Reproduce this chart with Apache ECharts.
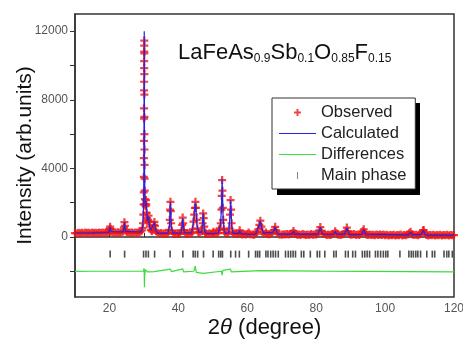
<!DOCTYPE html>
<html>
<head>
<meta charset="utf-8">
<script src="https://cdn.jsdelivr.net/npm/echarts@6/dist/echarts.min.js"></script>
<style>
  html, body { margin: 0; padding: 0; background: #fff; }
  #chart { width: 463px; height: 343px; }
</style>
</head>
<body>
<div id="chart"></div>
<script>
// observed points [2theta, intensity]
const observed = [
  [10,230],[10.5,205],[11,250],[11.5,220],[12,240],[12.5,210],[13,255],[13.5,225],[14,245],[14.5,215],
  [15,260],[15.5,230],[16,250],[16.5,225],[17,265],[17.5,235],[18,255],[18.5,230],[19,270],[19.5,250],
  [20,330],[20.1,480],[20.2,600],[20.3,470],[20.5,300],[21,255],[21.5,275],[22,245],[22.5,270],[23,250],
  [23.5,280],[24,320],[24.2,560],[24.35,860],[24.5,650],[24.7,380],[25,290],[25.5,260],[26,240],[26.5,265],
  [27,235],[27.5,260],[28,240],[28.5,260],[29,300],[29.4,380],[29.6,520],[29.75,800],[29.85,1300],[29.92,1900],
  [29.96,2600],[29.98,3500],[30,4600],[30.02,5600],[30.03,6900],[30.04,7500],[30.05,8550],[30.06,9050],
  [30.07,9850],[30.08,10250],[30.09,10800],[30.1,11150],[30.11,11450],[30.12,10700],[30.13,9500],[30.14,8300],
  [30.15,7000],[30.16,6000],[30.17,5100],[30.19,4200],[30.21,3400],[30.24,2700],
  [30.3,2200],[30.4,1900],[30.5,1800],[30.6,2150],[30.7,1900],[30.8,1400],[30.9,1100],[31,900],[31.2,1000],
  [31.35,1250],[31.5,900],[31.7,600],[32,420],[32.3,330],[32.6,420],[32.9,700],[33.05,880],[33.2,650],[33.5,330],
  [34,240],[34.5,200],[35,225],[35.5,190],[36,215],[36.5,180],[37,230],[37.3,420],[37.5,1000],[37.6,1600],
  [37.7,2050],[37.8,1500],[37.9,800],[38.1,350],[38.5,220],[39,185],[39.5,210],[40,180],[40.5,215],[40.9,380],
  [41.1,700],[41.25,1130],[41.4,800],[41.6,400],[42,210],[42.5,180],[43,210],[43.5,190],[44,260],[44.2,450],
  [44.4,900],[44.6,1300],[44.8,1700],[44.95,2050],[45.1,1700],[45.3,1000],[45.5,500],[45.8,280],[46.2,230],
  [46.8,330],[47.05,800],[47.2,1370],[47.35,1100],[47.5,600],[47.8,260],[48,200],[48.5,180],[49,210],[49.5,175],
  [50,230],[50.2,310],[50.5,210],[51,190],[51.5,230],[51.8,420],[52,500],[52.3,800],[52.5,1600],[52.6,2400],
  [52.7,3320],[52.8,2700],[52.9,1700],[53,1000],[53.2,450],[53.5,240],[54,200],[54.5,210],[54.8,500],[55,1300],
  [55.15,2150],[55.3,1600],[55.45,800],[55.7,300],[56,190],[56.5,220],[57,170],[57.5,200],[57.8,390],[58.1,200],
  [58.5,150],[59,180],[59.5,140],[60,170],[60.4,260],[60.8,160],[61.5,150],[62,130],[62.5,190],[62.8,300],
  [63.2,450],[63.5,700],[63.8,950],[64.1,600],[64.4,300],[64.8,180],[65.4,260],[65.8,170],[66.3,160],[66.8,200],
  [67.3,260],[67.8,400],[68.1,590],[68.4,380],[68.8,200],[69.3,150],[70,130],[70.5,160],[71,140],[71.5,180],
  [72,150],[72.5,170],[73,200],[73.4,350],[73.7,220],[74,170],[74.5,130],[75,150],[75.5,120],[76,170],
  [76.5,140],[77,110],[77.5,140],[78,120],[78.5,170],[79,130],[79.5,150],[80,140],[80.5,190],[80.9,380],
  [81.2,580],[81.5,330],[81.9,170],[82.5,190],[83,120],[83.5,140],[84,110],[84.5,150],[85,190],[85.5,340],
  [85.9,220],[86.3,130],[87,110],[87.5,140],[88,170],[88.5,300],[88.9,550],[89.2,320],[89.6,170],[90,130],
  [90.5,150],[91,170],[91.5,120],[92,140],[92.5,110],[93,170],[93.5,330],[93.8,450],[94.1,260],[94.5,140],
  [95,120],[95.5,150],[96,110],[96.5,130],[97,100],[97.5,140],[98,110],[98.5,150],[99,120],[99.5,140],
  [100,100],[100.5,130],[101,90],[101.5,120],[102,100],[102.5,130],[103,90],[103.5,120],[104,100],[104.5,140],
  [105,90],[105.5,120],[106,100],[106.5,150],[107,210],[107.4,300],[107.8,160],[108.3,110],[109,130],[109.5,100],
  [110,150],[110.5,220],[111,380],[111.2,400],[111.5,250],[112,120],[112.5,90],[113,120],[113.5,100],[114,130],
  [114.5,90],[115,120],[115.5,100],[116,130],[116.5,90],[117,120],[117.5,100],[118,130],[118.5,90],[119,120],
  [119.5,100],[120,110]
];

// calculated profile
const calculated = [
  [10,230],[15,240],[19.8,260],[20,330],[20.2,590],[20.4,320],[20.6,260],[24,290],[24.2,550],[24.35,850],
  [24.5,600],[24.7,330],[25,270],[29,290],[29.6,500],[29.85,1300],[29.98,3500],[30.04,7800],[30.08,10500],
  [30.1,12000],[30.12,10600],[30.15,7200],[30.2,3800],[30.3,2200],[30.45,1800],[30.6,2100],[30.75,1700],
  [31,950],[31.35,1200],[31.6,650],[32,400],[32.5,350],[33.05,850],[33.4,380],[34,220],[37,220],[37.4,600],
  [37.6,1600],[37.7,2050],[37.8,1500],[38,500],[38.4,220],[40.8,230],[41.1,700],[41.25,1100],[41.4,750],
  [41.7,250],[43.8,230],[44.4,900],[44.8,1700],[44.95,2000],[45.1,1700],[45.4,700],[45.9,260],[46.8,300],
  [47.05,850],[47.2,1400],[47.35,1000],[47.6,350],[48,200],[50,200],[50.2,300],[50.4,200],[51.6,230],
  [51.8,420],[52.2,650],[52.5,1600],[52.7,3400],[52.85,2300],[53,1100],[53.3,350],[53.7,210],[54.6,230],
  [55,1300],[55.15,2150],[55.3,1600],[55.5,600],[55.8,220],[57.5,200],[57.8,380],[58.1,190],[60,160],
  [60.4,250],[60.8,160],[62.3,160],[62.8,310],[63.4,650],[63.8,950],[64.2,520],[64.7,200],[65.4,250],
  [65.9,170],[67.3,250],[67.8,400],[68.1,590],[68.4,360],[68.9,170],[73,170],[73.4,340],[73.8,170],
  [80.5,170],[80.9,370],[81.2,570],[81.5,320],[82,160],[85.1,170],[85.5,330],[85.9,170],[88.3,170],
  [88.9,540],[89.3,280],[89.8,140],[93.2,150],[93.8,440],[94.3,170],[94.8,120],[106.8,120],[107.4,290],
  [107.9,120],[110.5,150],[111.1,390],[111.6,160],[112.2,110],[120,110]
];

// observed - calculated, shifted down
const difference = [
  [10,-2010],[15,-2000],[20,-2000],[20.2,-1960],[20.4,-2010],[24.35,-2000],[29.9,-2000],[30.0,-1830],
  [30.1,-2200],[30.15,-2930],[30.2,-2300],[30.4,-1900],[30.6,-1960],[31,-2040],[33,-2020],[37.7,-1880],
  [38,-2020],[41.3,-1860],[41.5,-2030],[44.5,-2000],[44.9,-1700],[45.2,-2060],[47.2,-2120],[47.4,-2020],
  [52.5,-2000],[52.7,-2230],[52.9,-1950],[55.1,-1870],[55.4,-2040],[63.8,-1960],[64.1,-2040],[81.2,-1990],
  [120,-2040]
];

// reflection positions of the main phase
const braggPos = [
  20.2, 24.4, 29.9, 30.6, 31.3, 33.1, 37.6, 41.3, 44.3, 44.9, 45.6, 47.3, 50.1, 51.7, 52.3, 52.8, 55.2,
  56.6, 57.7, 60.4, 62.4, 63.0, 63.6, 65.4, 66.0, 66.8, 67.5, 68.2, 69.0, 71.1, 71.9, 72.6, 73.3, 74.0,
  75.7, 76.4, 78.3, 80.3, 81.0, 82.5, 85.1, 85.8, 88.5, 89.3, 90.6, 91.4, 93.4, 94.1, 94.8, 95.5, 97.2,
  97.9, 98.7, 99.5, 100.2, 100.8, 104.3, 106.9, 107.6, 108.2, 108.9, 109.5, 110.3, 112.1, 113.7, 114.4,
  117.1, 117.9, 118.5, 119.5
];
const braggLevel = -1000;

const xLabels = [20, 40, 60, 80, 100, 120];
const xTicks = [20, 30, 40, 50, 60, 70, 80, 90, 100, 110];
const yLabels = [0, 4000, 8000, 12000];
const yTicks = [-2000, 0, 2000, 4000, 6000, 8000, 10000, 12000];

const FONT = '"Liberation Sans", Arial, sans-serif';
const plusPath = 'path://M3.6,0H6.4V3.6H10V6.4H6.4V10H3.6V6.4H0V3.6H3.6Z';
const barPath = 'path://M0,0H1V10H0Z';
const linePath = 'path://M0,0H40V1.2H0Z';

const chart = echarts.init(document.getElementById('chart'));
chart.setOption({
  animation: false,
  backgroundColor: '#fff',
  textStyle: { fontFamily: FONT },
  title: {
    left: 178, top: 42, padding: 0,
    text: '{m|LaFeAs}{s|0.9}{m|Sb}{s|0.1}{m|O}{s|0.85}{m|F}{s|0.15}',
    textStyle: {
      fontWeight: 'normal',
      rich: {
        m: { fontFamily: FONT, fontSize: 22, fontWeight: 'normal', lineHeight: 23, color: '#111', verticalAlign: 'top' },
        s: { fontFamily: FONT, fontSize: 12, fontWeight: 'normal', lineHeight: 12, color: '#111', verticalAlign: 'bottom', padding: [16, 0, 0, 0] }
      }
    }
  },
  // hard drop shadow behind the legend box
  graphic: [{
    type: 'rect', z: 3, silent: true,
    shape: { x: 277, y: 103, width: 143, height: 92 },
    style: { fill: '#000' }
  }],
  legend: {
    left: 272, top: 98, z: 4,
    orient: 'vertical',
    padding: [6, 9, 5, 7],
    itemGap: 4,
    itemWidth: 37,
    itemHeight: 7,
    backgroundColor: '#fff',
    borderColor: '#333',
    borderWidth: 1,
    textStyle: { fontFamily: FONT, fontSize: 16.5, lineHeight: 16, color: '#222' },
    data: [
      { name: 'Observed', icon: plusPath },
      { name: 'Calculated', icon: linePath },
      { name: 'Differences', icon: linePath },
      { name: 'Main phase', icon: barPath }
    ]
  },
  grid: {
    left: 75, right: 9, top: 14, bottom: 46,
    outerBoundsMode: 'none',
    show: true, borderColor: '#333', borderWidth: 1.5
  },
  xAxis: {
    type: 'value', min: 10, max: 120, interval: 10,
    name: '2{t|θ} (degree)',
    nameLocation: 'middle', nameGap: 20, nameMoveOverlap: false,
    nameTextStyle: {
      fontFamily: FONT, fontSize: 22, color: '#111',
      rich: { t: { fontFamily: FONT, fontSize: 22, fontStyle: 'italic', color: '#111' } }
    },
    axisLine: { lineStyle: { color: '#333', width: 1.5 } },
    axisTick: { inside: true, length: 4, customValues: xTicks, lineStyle: { color: '#333' } },
    axisLabel: { customValues: xLabels, margin: 6, fontSize: 12, color: '#555', fontFamily: FONT },
    splitLine: { show: false }
  },
  yAxis: {
    type: 'value', min: -3500, max: 13000,
    name: 'Intensity (arb.units)',
    nameLocation: 'middle', nameGap: 39, nameMoveOverlap: false,
    nameTextStyle: { fontFamily: FONT, fontSize: 21, color: '#111' },
    axisLine: { show: true, lineStyle: { color: '#333', width: 1.5 } },
    axisTick: { show: true, inside: false, length: 5, customValues: yTicks, lineStyle: { color: '#333' } },
    axisLabel: {
      customValues: yLabels, margin: 7, fontSize: 12, color: '#555', fontFamily: FONT,
      formatter: v => String(v)
    },
    splitLine: { show: false }
  },
  series: [
    {
      name: 'Observed', type: 'scatter', data: observed,
      symbol: plusPath, symbolSize: 8,
      itemStyle: { color: '#f01414' }, z: 2
    },
    {
      name: 'Calculated', type: 'line', data: calculated,
      symbol: 'none', lineStyle: { color: '#2424e8', width: 1.2 },
      itemStyle: { color: '#2424e8' }, z: 3
    },
    {
      name: 'Differences', type: 'line', data: difference,
      symbol: 'none', lineStyle: { color: '#3ddc3d', width: 1.2 },
      itemStyle: { color: '#3ddc3d' }, z: 3
    },
    {
      name: 'Main phase', type: 'scatter',
      data: braggPos.map(p => [p, braggLevel]),
      symbol: barPath, symbolSize: [1.6, 7],
      itemStyle: { color: '#222' }, z: 3
    }
  ]
});
</script>
</body>
</html>
